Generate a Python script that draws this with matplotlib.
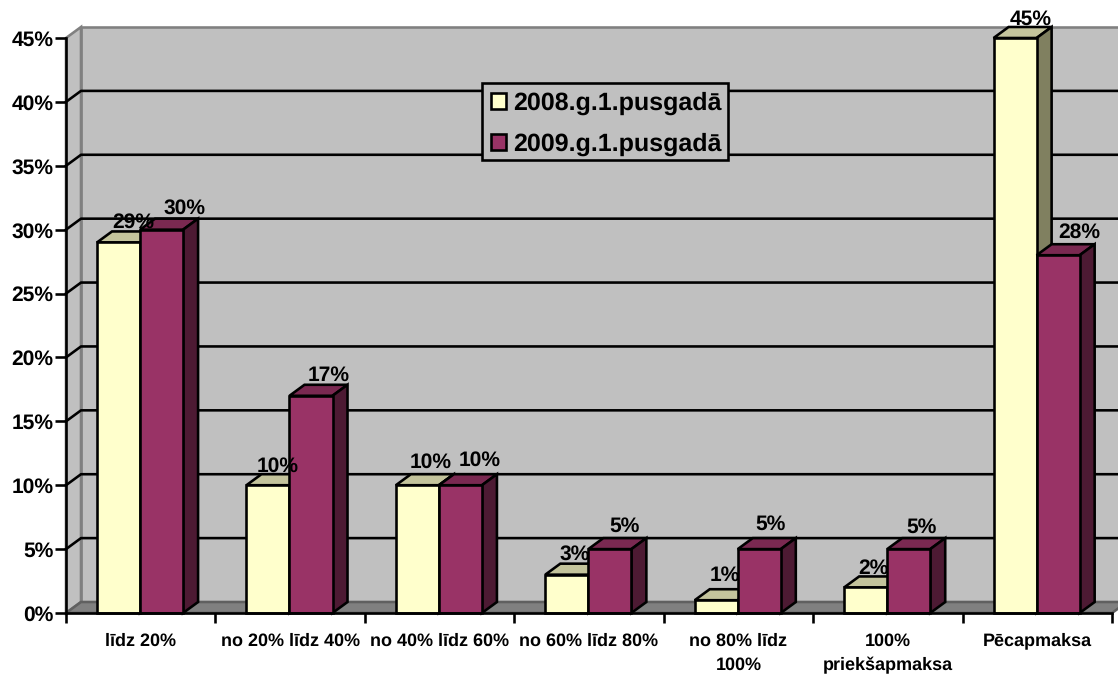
"""
Recreates the 3D-look clustered bar chart of payment terms (2008 vs 2009).
"""

import matplotlib

matplotlib.use("Agg")

import matplotlib.pyplot as plt
from matplotlib.patches import Patch, Polygon, Rectangle

categories = [
    "līdz 20%",
    "no 20% līdz 40%",
    "no 40% līdz 60%",
    "no 60% līdz 80%",
    "no 80% līdz\n100%",
    "100%\npriekšapmaksa",
    "Pēcapmaksa",
]
values_2008 = [29, 10, 10, 3, 1, 2, 45]
values_2009 = [30, 17, 10, 5, 5, 5, 28]
y_ticks = [0, 5, 10, 15, 20, 25, 30, 35, 40, 45]
series_names = ["2008.g.1.pusgadā", "2009.g.1.pusgadā"]

# Plotting controls
plt.rcParams["font.family"] = ["Liberation Sans", "DejaVu Sans"]
plt.rcParams["font.weight"] = "bold"
plt.rcParams["text.hinting"] = "no_hinting"
plt.rcParams["text.hinting_factor"] = 1

dpi = 100
px = 72 / dpi  # one pixel in points
line_width = 2.6 * px

# Depth of the fake 3D, in data units
depth_x = 15 / 149.4
depth_y = 11 / (575 / 45)

bar_width = 0.288
wall_colour = "#c0c0c0"
edge_grey = "#808080"

# front, top, side
colours_2008 = ["#ffffcc", "#c4c49c", "#808060"]
colours_2009 = ["#993366", "#7a2951", "#4d1a33"]

# Where each value label sits relative to its bar top, in pixels (right, up)
label_shift_2008 = [(15, 9), (10, 8), (13, 12), (8, 9), (9, 14), (8, 8), (16, 8)]
label_shift_2009 = [(23, 10), (18, 9), (19, 14), (15, 12), (11, 14), (13, 11), (21, 12)]


def add_polygon(ax, points, colour, edge="black", zorder=3):
    ax.add_patch(
        Polygon(
            points,
            closed=True,
            facecolor=colour,
            edgecolor=edge,
            linewidth=line_width,
            joinstyle="miter",
            clip_on=False,
            zorder=zorder,
        )
    )


def setup_walls(ax):
    """
    Back wall, side wall, floor and the gridlines that run over them.
    """
    right = len(categories)
    top = y_ticks[-1]

    add_polygon(
        ax,
        [(depth_x, depth_y), (right + depth_x, depth_y),
         (right + depth_x, top + depth_y), (depth_x, top + depth_y)],
        wall_colour, edge_grey, 1,
    )
    add_polygon(
        ax,
        [(0, 0), (depth_x, depth_y), (depth_x, top + depth_y), (0, top)],
        wall_colour, edge_grey, 1,
    )
    add_polygon(
        ax,
        [(0, 0), (right, 0), (right + depth_x, depth_y), (depth_x, depth_y)],
        edge_grey, "#606060", 1.5,
    )

    for y in y_ticks[1:-1]:
        ax.plot(
            [0, depth_x, right + depth_x],
            [y, y + depth_y, y + depth_y],
            color="black",
            linewidth=line_width,
            clip_on=False,
            zorder=2,
        )


def draw_bars(ax, values, offset, colours, label_shift):
    """
    Front faces with ax.bar, then the top and side faces and the value labels.
    """
    for i, value in enumerate(values):
        left = i + offset
        right = left + bar_width

        add_polygon(
            ax,
            [(left, value), (right, value),
             (right + depth_x, value + depth_y), (left + depth_x, value + depth_y)],
            colours[1],
        )
        add_polygon(
            ax,
            [(right, 0), (right + depth_x, depth_y),
             (right + depth_x, value + depth_y), (right, value)],
            colours[2],
        )
        ax.bar(
            left,
            value,
            width=bar_width,
            align="edge",
            color=colours[0],
            edgecolor="black",
            linewidth=line_width,
            clip_on=False,
            zorder=3,
        )

        ax.annotate(
            f"{value}%",
            xy=(left + bar_width / 2, value + depth_y),
            xytext=(label_shift[i][0] * px, label_shift[i][1] * px),
            textcoords="offset points",
            ha="center",
            va="center",
            fontsize=15.2,
            annotation_clip=False,
            zorder=6,
        )


fig = plt.figure(figsize=(11.18, 6.77), dpi=dpi)
ax = fig.add_axes([66 / 1118, 64 / 677, 1046 / 1118, 575 / 677])
ax.set_xlim(0, len(categories))
ax.set_ylim(0, y_ticks[-1])
ax.patch.set_visible(False)

setup_walls(ax)
draw_bars(ax, values_2008, 0.2075, colours_2008, label_shift_2008)
draw_bars(ax, values_2009, 0.2075 + bar_width, colours_2009, label_shift_2009)

for side in ["top", "right"]:
    ax.spines[side].set_visible(False)
for side in ["left", "bottom"]:
    ax.spines[side].set_linewidth(line_width)
    ax.spines[side].set_zorder(5)

ax.set_yticks(y_ticks)
ax.set_yticklabels([f"{y}%" for y in y_ticks], fontsize=15.2)
ax.tick_params(axis="y", length=11 * px, width=line_width, pad=1)

ax.set_xticks(range(len(categories) + 1))
ax.set_xticklabels([])
ax.set_xticks([i + 0.5 for i in range(len(categories))], minor=True)
ax.set_xticklabels(categories, minor=True, fontsize=12.9, linespacing=1.6)
ax.tick_params(axis="x", which="major", length=10 * px, width=line_width)
ax.tick_params(axis="x", which="minor", length=0, pad=14)

# The frame is drawn separately, the row spacing and the box width don't fit
# one borderpad.
ax.add_patch(
    Rectangle(
        (482 / 1118, 1 - 160 / 677),
        246 / 1118,
        77 / 677,
        transform=fig.transFigure,
        facecolor=wall_colour,
        edgecolor="black",
        linewidth=line_width,
        clip_on=False,
        zorder=6.5,
    )
)
handles = [
    Patch(facecolor=colours_2008[0], edgecolor="black", linewidth=line_width),
    Patch(facecolor=colours_2009[0], edgecolor="black", linewidth=line_width),
]
legend = ax.legend(
    handles,
    series_names,
    loc="upper left",
    bbox_to_anchor=(491 / 1118, 1 - 92 / 677),
    bbox_transform=fig.transFigure,
    prop={"size": 17.7, "weight": "bold"},
    frameon=False,
    borderaxespad=0,
    borderpad=0,
    labelspacing=0.7,
    handlelength=0.62,
    handleheight=0.62,
    handletextpad=0.3,
)
legend.set_zorder(7)

fig.savefig("out.png", dpi=dpi)
